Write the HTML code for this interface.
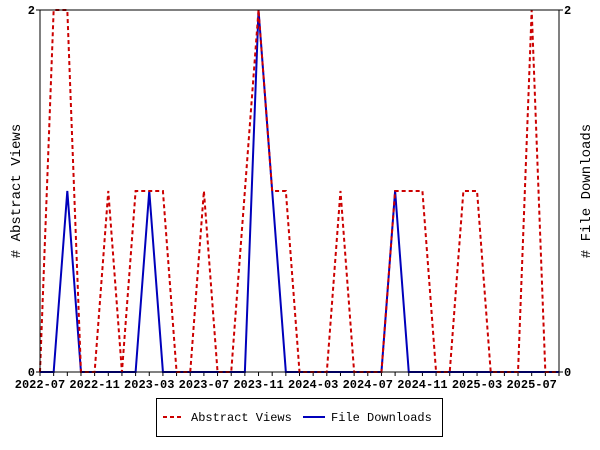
<!DOCTYPE html>
<html><head><meta charset="utf-8"><style>
body{margin:0;background:#fff}
svg{display:block;font-family:"Liberation Mono",monospace;font-weight:bold}
</style></head><body>
<svg id="chart" width="600" height="450">
<rect width="600" height="450" fill="#fff"/>
<g id="grid"></g>
<g id="series"></g>
<rect x="40" y="10" width="519" height="362" fill="none" stroke="#000" stroke-width="1"/>
<text x="20" y="191" font-size="14" font-weight="normal" text-anchor="middle" transform="rotate(-90 20 191)"># Abstract Views</text>
<text x="590" y="191" font-size="14" font-weight="normal" text-anchor="middle" transform="rotate(-90 590 191)"># File Downloads</text>
<g>
<rect x="156.5" y="398.5" width="286" height="38" fill="#fff" stroke="#000"/>
<line x1="163" y1="417" x2="183" y2="417" stroke="#cc0000" stroke-width="2" stroke-dasharray="4,3"/>
<text x="191" y="421" font-size="12" font-weight="normal">Abstract Views</text>
<line x1="303" y1="417" x2="325" y2="417" stroke="#0000bb" stroke-width="2"/>
<text x="331" y="421" font-size="12" font-weight="normal">File Downloads</text>
</g>
</svg>
<script>
const months = ["2022-07","2022-08","2022-09","2022-10","2022-11","2022-12","2023-01","2023-02","2023-03","2023-04","2023-05","2023-06","2023-07","2023-08","2023-09","2023-10","2023-11","2023-12","2024-01","2024-02","2024-03","2024-04","2024-05","2024-06","2024-07","2024-08","2024-09","2024-10","2024-11","2024-12","2025-01","2025-02","2025-03","2025-04","2025-05","2025-06","2025-07","2025-08","2025-09"];
const views = [0,2,2,0,0,1,0,1,1,1,0,0,1,0,0,1,2,1,1,0,0,0,1,0,0,0,1,1,1,0,0,1,1,0,0,0,2,0,0];
const downloads = [0,0,1,0,0,0,0,0,1,0,0,0,0,0,0,0,2,1,0,0,0,0,0,0,0,0,1,0,0,0,0,0,0,0,0,0,0,0,0];
const xLabels = ["2022-07","2022-11","2023-03","2023-07","2023-11","2024-03","2024-07","2024-11","2025-03","2025-07"];
const yTicks = [0,2];

const X0=40,X1=559,Y0=372,Y1=10;
const xs=i=>X0+(X1-X0)*i/(months.length-1);
const ys=v=>Y0-(Y0-Y1)*v/2;
const NS="http://www.w3.org/2000/svg";
const grid=document.getElementById('grid'), ser=document.getElementById('series');
function mk(tag,attrs,parent){const e=document.createElementNS(NS,tag);for(const k in attrs)e.setAttribute(k,attrs[k]);parent.appendChild(e);return e;}
months.forEach((m,i)=>{
  const t=mk('line',{x1:xs(i),x2:xs(i),y1:Y0,y2:Y0+4,stroke:'#000'},grid);
  
  
  if(xLabels.includes(m)){
    const tx=mk('text',{x:xs(i),y:388,'font-size':12,'text-anchor':'middle'},grid);
    tx.textContent=m;
    
    
  }
});
yTicks.forEach(v=>{
  const a=mk('line',{x1:X0-4,x2:X0,y1:ys(v),y2:ys(v),stroke:'#000'},grid);
  
  
  const b=mk('line',{x1:X1,x2:X1+4,y1:ys(v),y2:ys(v),stroke:'#000'},grid);
  
  
  const l=mk('text',{x:X0-5,y:ys(v)+4,'font-size':12,'text-anchor':'end'},grid);
  l.textContent=v;
  
  
  const r=mk('text',{x:X1+5,y:ys(v)+4,'font-size':12},grid);
  r.textContent=v;
  
  
});
const dl=mk('polyline',{points:downloads.map((v,i)=>xs(i)+','+ys(v)).join(' '),fill:'none',stroke:'#0000bb','stroke-width':2},ser);


const vl=mk('polyline',{points:views.map((v,i)=>xs(i)+','+ys(v)).join(' '),fill:'none',stroke:'#cc0000','stroke-width':2,'stroke-dasharray':'4,3'},ser);


</script>
</body></html>
